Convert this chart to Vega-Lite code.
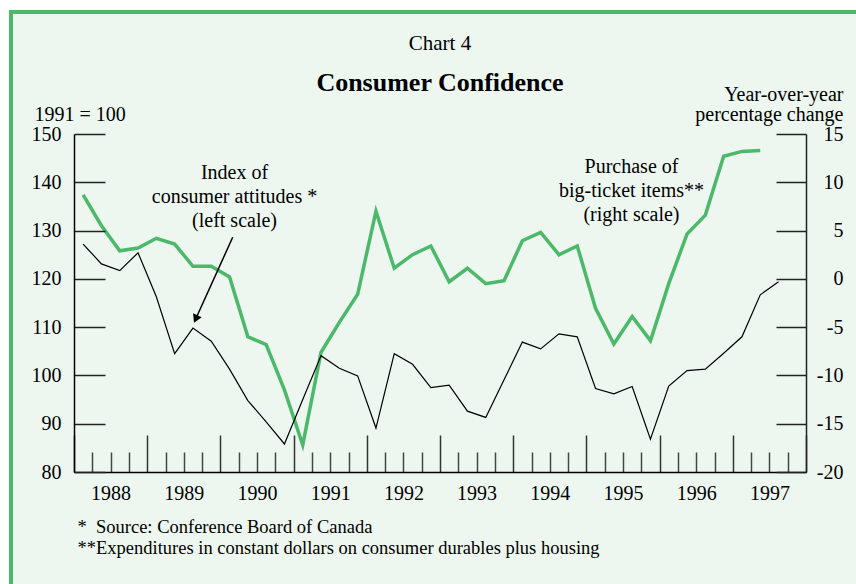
{
  "$schema": "https://vega.github.io/schema/vega-lite/v6.json",
  "width": 732,
  "height": 338,
  "autosize": {"type": "none"},
  "padding": {"left": 74, "top": 134, "right": 50, "bottom": 112},
  "background": "white",
  "config": {
    "font": "Liberation Serif",
    "view": {"stroke": null},
    "text": {"font": "Liberation Serif"},
    "axis": {"zindex": 2, "grid": false, "labelColor": "black", "titleColor": "black", "labelFont": "Liberation Serif", "titleFont": "Liberation Serif", "titleFontWeight": "normal"}
  },
  "title": {
    "text": "Chart 4",
    "subtitle": "Consumer Confidence",
    "font": "Liberation Serif",
    "fontSize": 21,
    "fontWeight": "normal",
    "color": "black",
    "subtitleFont": "Liberation Serif",
    "subtitleFontSize": 26,
    "subtitleFontWeight": "bold",
    "subtitleColor": "black",
    "subtitlePadding": 16,
    "anchor": "middle",
    "frame": "group",
    "offset": -86
  },
  "data": {
    "values": [
      {"t": 1988.125, "index": 127.2, "purchases": 8.7},
      {"t": 1988.375, "index": 123.1, "purchases": 5.5},
      {"t": 1988.625, "index": 121.7, "purchases": 2.9},
      {"t": 1988.875, "index": 125.4, "purchases": 3.2},
      {"t": 1989.125, "index": 116.3, "purchases": 4.2},
      {"t": 1989.375, "index": 104.5, "purchases": 3.6},
      {"t": 1989.625, "index": 109.8, "purchases": 1.3},
      {"t": 1989.875, "index": 107.1, "purchases": 1.3},
      {"t": 1990.125, "index": 101.3, "purchases": 0.2},
      {"t": 1990.375, "index": 94.8, "purchases": -6.0},
      {"t": 1990.625, "index": 90.4, "purchases": -6.8},
      {"t": 1990.875, "index": 85.8, "purchases": -11.5},
      {"t": 1991.125, "index": 95.0, "purchases": -17.2},
      {"t": 1991.375, "index": 104.1, "purchases": -7.6},
      {"t": 1991.625, "index": 101.5, "purchases": -4.5},
      {"t": 1991.875, "index": 99.9, "purchases": -1.6},
      {"t": 1992.125, "index": 89.1, "purchases": 7.0},
      {"t": 1992.375, "index": 104.5, "purchases": 1.1},
      {"t": 1992.625, "index": 102.3, "purchases": 2.5},
      {"t": 1992.875, "index": 97.5, "purchases": 3.4},
      {"t": 1993.125, "index": 98.0, "purchases": -0.3},
      {"t": 1993.375, "index": 92.6, "purchases": 1.1},
      {"t": 1993.625, "index": 91.3, "purchases": -0.5},
      {"t": 1993.875, "index": 99.1, "purchases": -0.2},
      {"t": 1994.125, "index": 106.9, "purchases": 3.95},
      {"t": 1994.375, "index": 105.5, "purchases": 4.8},
      {"t": 1994.625, "index": 108.6, "purchases": 2.5},
      {"t": 1994.875, "index": 108.0, "purchases": 3.4},
      {"t": 1995.125, "index": 97.3, "purchases": -3.05},
      {"t": 1995.375, "index": 96.2, "purchases": -6.75},
      {"t": 1995.625, "index": 97.7, "purchases": -3.9},
      {"t": 1995.875, "index": 86.8, "purchases": -6.4},
      {"t": 1996.125, "index": 97.8, "purchases": -0.5},
      {"t": 1996.375, "index": 101.0, "purchases": 4.65},
      {"t": 1996.625, "index": 101.3, "purchases": 6.6},
      {"t": 1996.875, "index": 104.6, "purchases": 12.7},
      {"t": 1997.125, "index": 108.0, "purchases": 13.2},
      {"t": 1997.375, "index": 116.7, "purchases": 13.3},
      {"t": 1997.625, "index": 119.4, "purchases": null}
    ]
  },
  "layer": [
    {
      "data": {"values": [{}]},
      "mark": {"type": "rect", "fill": "#EDF7F0", "stroke": "#4CB86A", "strokeWidth": 4, "zindex": 0},
      "encoding": {
        "x": {"datum": 1987.139, "type": "quantitative", "scale": {"domain": [1988, 1998], "nice": false, "zero": false}, "axis": null},
        "x2": {"datum": 1998.9},
        "y": {"datum": 175.26, "type": "quantitative", "scale": {"domain": [80, 150], "nice": false, "zero": false}, "axis": null},
        "y2": {"datum": 53.5}
      }
    },
    {
      "mark": {"type": "line", "color": "#4CB86A", "strokeWidth": 3.5, "zindex": 1},
      "encoding": {
        "x": {
          "field": "t", "type": "quantitative",
          "scale": {"domain": [1988, 1998], "nice": false, "zero": false},
          "axis": {
            "orient": "bottom", "zindex": 2,
            "values": [1988.25, 1988.5, 1988.75, 1989.25, 1989.5, 1989.75, 1990.25, 1990.5, 1990.75, 1991.25, 1991.5, 1991.75, 1992.25, 1992.5, 1992.75, 1993.25, 1993.5, 1993.75, 1994.25, 1994.5, 1994.75, 1995.25, 1995.5, 1995.75, 1996.25, 1996.5, 1996.75, 1997.25, 1997.5, 1997.75],
            "tickSize": -20, "tickWidth": 1.5, "tickColor": "#444",
            "labels": false, "domain": false, "title": null
          }
        },
        "y": {
          "field": "purchases", "type": "quantitative",
          "scale": {"domain": [-20, 15], "nice": false, "zero": false},
          "axis": {
            "orient": "right", "zindex": 2,
            "values": [-20, -15, -10, -5, 0, 5, 10, 15],
            "labelExpr": "'' + datum.value",
            "tickSize": -30, "tickWidth": 1.5, "tickColor": "#222",
            "domain": true, "domainColor": "#222", "domainWidth": 1.5,
            "labelAlign": "right", "labelPadding": 67, "labelFontSize": 20,
            "title": ["Year-over-year", "percentage change"],
            "titleAngle": 0, "titleAlign": "right", "titleBaseline": "alphabetic",
            "titleX": 37, "titleY": -34, "titleFontSize": 20, "titleLineHeight": 20
          }
        }
      }
    },
    {
      "mark": {"type": "line", "color": "black", "strokeWidth": 1.2, "zindex": 1},
      "encoding": {
        "x": {
          "field": "t", "type": "quantitative",
          "scale": {"domain": [1988, 1998], "nice": false, "zero": false},
          "axis": {
            "orient": "bottom", "zindex": 2,
            "values": [1988, 1989, 1990, 1991, 1992, 1993, 1994, 1995, 1996, 1997, 1998],
            "tickSize": -37, "tickWidth": 1.5, "tickColor": "#333",
            "domain": true, "domainColor": "black", "domainWidth": 1.5,
            "format": "d",
            "labelExpr": "datum.value < 1998 ? datum.label : ''",
            "labelOffset": 36.6, "labelPadding": 48, "labelFontSize": 20,
            "labelFlush": false, "labelOverlap": false,
            "title": ["*\u00a0\u00a0Source: Conference Board of Canada", "**Expenditures in constant dollars on consumer durables plus housing"],
            "titleAlign": "left", "titleAnchor": "start", "titleBaseline": "alphabetic",
            "titleX": 3, "titleY": 60, "titleFontSize": 18.5, "titleLineHeight": 21
          }
        },
        "y": {
          "field": "index", "type": "quantitative",
          "scale": {"domain": [80, 150], "nice": false, "zero": false},
          "axis": {
            "orient": "left", "zindex": 2,
            "values": [80, 90, 100, 110, 120, 130, 140, 150],
            "tickSize": -31, "tickWidth": 1.5, "tickColor": "#222",
            "domain": true, "domainColor": "black", "domainWidth": 1.5,
            "labelPadding": 44, "labelFontSize": 20,
            "title": "1991 = 100",
            "titleAngle": 0, "titleAlign": "left", "titleBaseline": "alphabetic",
            "titleX": -40, "titleY": -14, "titleFontSize": 20
          }
        }
      }
    },
    {
      "data": {"values": [{}]},
      "mark": {"type": "text", "text": ["Index of", "consumer attitudes *", "(left scale)"], "font": "Liberation Serif", "fontSize": 20, "lineHeight": 23.7, "align": "center", "baseline": "alphabetic", "color": "black", "zindex": 1},
      "encoding": {
        "x": {"datum": 1990.193, "type": "quantitative", "scale": {"domain": [1988, 1998], "nice": false, "zero": false}, "axis": null},
        "y": {"datum": 140.62, "type": "quantitative", "scale": {"domain": [80, 150], "nice": false, "zero": false}, "axis": null}
      }
    },
    {
      "data": {"values": [{}]},
      "mark": {"type": "text", "text": ["Purchase of", "big-ticket items**", "(right scale)"], "font": "Liberation Serif", "fontSize": 20, "lineHeight": 23.7, "align": "center", "baseline": "alphabetic", "color": "black", "zindex": 1},
      "encoding": {
        "x": {"datum": 1995.616, "type": "quantitative", "scale": {"domain": [1988, 1998], "nice": false, "zero": false}, "axis": null},
        "y": {"datum": 141.86, "type": "quantitative", "scale": {"domain": [80, 150], "nice": false, "zero": false}, "axis": null}
      }
    },
    {
      "data": {"values": [{}]},
      "mark": {"type": "rule", "color": "black", "strokeWidth": 1.5, "zindex": 1},
      "encoding": {
        "x": {"datum": 1990.168, "type": "quantitative", "scale": {"domain": [1988, 1998], "nice": false, "zero": false}, "axis": null},
        "x2": {"datum": 1989.6626},
        "y": {"datum": 128.61, "type": "quantitative", "scale": {"domain": [80, 150], "nice": false, "zero": false}, "axis": null},
        "y2": {"datum": 111.69}
      }
    },
    {
      "data": {"values": [{}]},
      "mark": {"type": "point", "shape": "triangle-down", "filled": true, "color": "black", "size": 90, "angle": 24.4, "opacity": 1, "strokeWidth": 0, "zindex": 1},
      "encoding": {
        "x": {"datum": 1989.6626, "type": "quantitative", "scale": {"domain": [1988, 1998], "nice": false, "zero": false}, "axis": null},
        "y": {"datum": 111.69, "type": "quantitative", "scale": {"domain": [80, 150], "nice": false, "zero": false}, "axis": null}
      }
    }
  ],
  "resolve": {"scale": {"x": "independent", "y": "independent"}, "axis": {"x": "independent", "y": "independent"}}
}
